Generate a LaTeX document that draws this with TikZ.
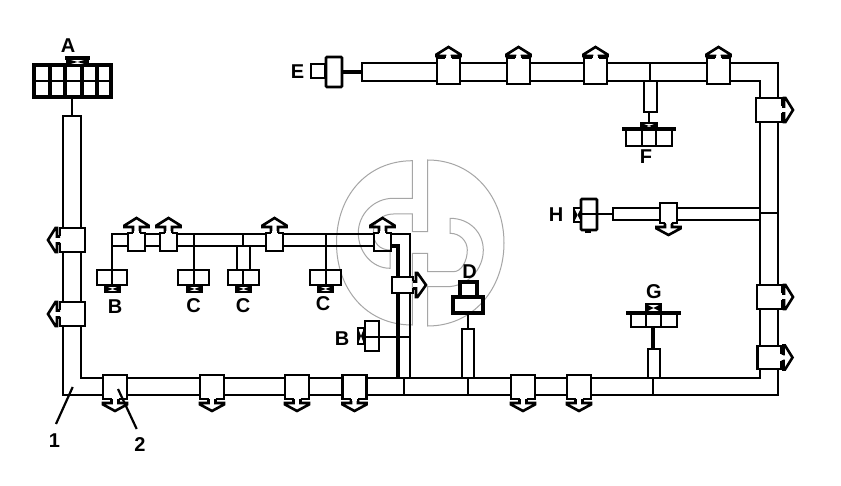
\documentclass[tikz,border=0pt]{standalone}
\usepackage{fontspec}
\setmainfont{Liberation Sans}
\tikzset{
  ln/.style={draw=black,line width=2.6pt,line join=miter},
  thinln/.style={draw=black,line width=1.7pt},
  thick3/.style={draw=black,line width=3.2pt},
  tag/.style={font=\bfseries\fontsize{20}{20}\selectfont,inner sep=0pt,text=black},
  mark line/.style={draw=black,line width=2.2pt},
  wm/.style={draw=black!35,line width=1pt},
}
% centre x, centre y, rotation (0 = up), box width, box length, gap to head, head length
\newcommand{\valve}[7]{%
  \begin{scope}[shift={(#1,#2)},rotate=#3]
    \pgfmathsetmacro{\hw}{#4/2}\pgfmathsetmacro{\hl}{#5/2}
    \pgfmathsetmacro{\ya}{-\hl-#6}\pgfmathsetmacro{\yb}{\ya-1.5}\pgfmathsetmacro{\yc}{\ya-#7}
    \path[fill=white] (-\hw,-\hl) rectangle (\hw,\hl);
    \draw[ln,fill=white] (-3.5,-\hl) -- (-3.5,\ya) -- (-12,\ya) -- (-12,\yb) -- (0,\yc) -- (12,\yb) -- (12,\ya) -- (3.5,\ya) -- (3.5,-\hl);
    \path[fill=white] (-2.2,-\hl-1.5) rectangle (2.2,-\hl+2);
    \draw[ln] (-3.5,-\hl) -- (-\hw,-\hl) -- (-\hw,\hl) -- (\hw,\hl) -- (\hw,-\hl) -- (3.5,-\hl);
  \end{scope}}
% x0 y0 x1 y1 : small dark actuator head
\newcommand{\nub}[4]{%
  \draw[ln,fill=white] (#1,#2) rectangle (#3,#4);
  \pgfmathsetmacro{\mx}{(#1+#3)/2}\pgfmathsetmacro{\my}{(#2+#4)/2}
  \fill[black] (#1,#2) -- (\mx,\my) -- (#1,#4) -- cycle;
  \fill[black] (#3,#2) -- (\mx,\my) -- (#3,#4) -- cycle;
}
\begin{document}
\begin{tikzpicture}[x=1pt,y=-1pt]
\useasboundingbox (0,0) rectangle (841,486);
\fill[white] (0,0) rectangle (841,486);
% main pipe ring
\draw[ln] (63,116) -- (63,395) -- (778,395) -- (778,63) -- (362,63) -- (362,81) -- (760,81) -- (760,378) -- (81,378) -- (81,116) -- cycle;
% branch pipe
\draw[ln] (112,268) -- (112,234) -- (410,234) -- (410,378);
\draw[ln] (112,246) -- (392,246);
\draw[thick3] (392,246) -- (398,246) -- (398,378);
% tees in bottom pipe, right pipe and top pipe
\draw[thinln] (404,378) -- (404,395);
\draw[thinln] (468,378) -- (468,395);
\draw[thinln] (653,378) -- (653,395);
\draw[thinln] (760,213) -- (778,213);
\draw[thinln] (650,63) -- (650,81);
% A
\draw[thick3] (34,65) rectangle (111,97);
\draw[ln] (34,81) -- (111,81);
\foreach \gx in {50,65,82,97}{\draw[thick3] (\gx,65) -- (\gx,97);}
\nub{67}{59}{88}{65}
\draw[thick3,line width=4pt] (65,58) -- (90,58);
\draw[thinln,line width=2pt] (72,97) -- (72,116);
% E
\draw[ln] (311,64) rectangle (325,78);
\draw[ln,rounded corners=1pt] (326,57) rectangle (342,87);
\draw[thick3] (342,72) -- (362,72);
% F
\draw[ln] (644,81) rectangle (657,112);
\draw[ln] (649,112) -- (649,122);
\nub{641}{123}{657}{129}
\draw[ln] (626,129) rectangle (672,146);
\draw[ln] (642,129) -- (642,146);
\draw[ln] (656,129) -- (656,146);
\draw[thick3] (622,129) -- (676,129);
% G
\draw[ln] (648,349) rectangle (660,378);
\draw[thick3] (653,349) -- (653,327);
\draw[ln] (631,313) rectangle (677,327);
\draw[ln] (646,313) -- (646,327);
\draw[ln] (661,313) -- (661,327);
\nub{646}{304}{661}{312}
\draw[thick3] (626,313) -- (681,313);
% H
\draw[ln] (613,208) rectangle (760,220);
\draw[ln,rounded corners=1pt] (581,199) rectangle (597,230);
\draw[thinln] (581,214) -- (613,214);
\nub{574}{208}{581}{222}
\draw[thick3] (585,231) -- (591,231);
% D
\draw[ln] (462,329) rectangle (474,378);
\draw[ln] (468,329) -- (468,313);
\draw[thick3] (453,297) rectangle (483,313);
\draw[thick3] (460,282) rectangle (477,297);
% B side actuator
\draw[ln] (365,337) -- (410,337);
\draw[ln,fill=white] (365,321) rectangle (379,351);
\draw[ln] (365,337) -- (379,337);
\nub{358}{328}{364}{344}
% bottom actuators on branch
\draw[ln] (112,268) -- (112,285);
\draw[ln] (97,270) rectangle (127,285);
\nub{105}{286}{120}{292}
\draw[ln] (194,234) -- (194,285);
\draw[ln] (178,270) rectangle (209,285);
\nub{187}{286}{202}{292}
\draw[thinln] (243,234) -- (243,246);
\draw[ln] (237,246) rectangle (250,270);
\draw[ln] (243,270) -- (243,285);
\draw[ln] (228,270) rectangle (259,285);
\nub{236}{286}{251}{292}
\draw[ln] (326,234) -- (326,285);
\draw[ln] (310,270) rectangle (341,285);
\nub{318}{286}{333}{292}
% valves: left pipe
\valve{72.5}{240}{90}{24}{25}{3}{9}
\valve{72.5}{314}{90}{24}{25}{3}{9}
% valves: right pipe
\valve{769}{110}{-90}{24}{26}{2}{9}
\valve{769.5}{297}{-90}{24}{25}{2}{9}
\valve{769.5}{357.5}{-90}{23}{24}{2}{9}
% valves: top pipe
\foreach \vx in {448.5,518.5,595.5,718.5}{\valve{\vx}{71}{0}{23}{26}{2}{9}}
% valves: bottom pipe
\foreach \vx in {115,212,297,354.5,523,579}{\valve{\vx}{387}{180}{24}{24}{4}{8}}
% valves: branch
\foreach \vx in {136.5,168.5,274.5,382.5}{\valve{\vx}{242}{0}{17}{18}{6}{9}}
\valve{402.5}{285}{-90}{16}{21}{3}{10}
\valve{668.5}{213}{180}{17}{20}{4}{8}
% labels
\node[tag] (lA) at (68,46) {A};
\node[tag] (lB1) at (115,307) {B};
\node[tag] (lC1) at (193.5,306) {C};
\node[tag] (lC2) at (243,306) {C};
\node[tag] (lC3) at (323,304) {C};
\node[tag] (lB2) at (342,339) {B};
\node[tag] (lD) at (469.5,272) {D};
\node[tag] (lE) at (297.5,72) {E};
\node[tag] (lF) at (646,157) {F};
\node[tag] (lG) at (654,292) {G};
\node[tag] (lH) at (556,215) {H};
\node[tag] (l1) at (54.5,441) {1};
\node[tag] (l2) at (140,445) {2};
\coordinate (p1) at (72.7,387);
\coordinate (p2) at (118,389);
\draw[mark line] (p1) -- (56,424);
\draw[mark line] (p2) -- (136.7,429);
% watermark
\begin{scope}[blend mode=multiply]
\draw[wm] (412.3,160.7) .. controls (366,161) and (336.5,197) .. (336.5,243)
  .. controls (336.5,289) and (366,325) .. (412.3,325) -- (412.3,253.3) -- (427.7,253.3) -- (427.7,271.7) -- (453.3,271.7)
  .. controls (461.5,271.7) and (467.3,261) .. (467.3,250)
  .. controls (467.3,241) and (460,233.3) .. (450,233.3) -- (450,218.3)
  .. controls (470,218.3) and (483.3,233) .. (483.3,250)
  .. controls (483.3,270) and (467,286.7) .. (446.7,286.7) -- (427.7,286.7) -- (427.7,326)
  .. controls (473,326) and (504,289) .. (504,243)
  .. controls (504,197) and (473,160) .. (427.7,160) -- (427.7,231.7) -- (412.3,231.7) -- (412.3,214) -- (393.3,214)
  .. controls (382,214) and (373.3,222) .. (373.3,233)
  .. controls (373.3,243) and (380,250) .. (390,250) -- (390,268.3)
  .. controls (372,268.3) and (358.3,252) .. (358.3,233)
  .. controls (358.3,214) and (374,198.3) .. (393.3,198.3) -- (412.3,198.3) -- cycle;
\end{scope}
\end{tikzpicture}
\end{document}
